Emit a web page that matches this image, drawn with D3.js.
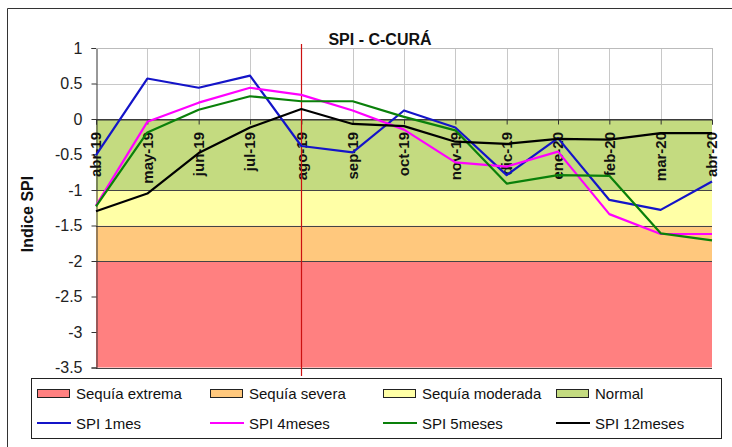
<!DOCTYPE html>
<html><head><meta charset="utf-8">
<script src="https://cdn.jsdelivr.net/npm/d3@7"></script>
<style>
body{margin:0;background:#fff;}
svg{display:block;font-family:"Liberation Sans",Arial,sans-serif;}
</style></head>
<body><svg id="c" width="732" height="447"></svg>
<script>
const categories = ["abr-19","may-19","jun-19","jul-19","ago-19","sep-19","oct-19","nov-19","dic-19","ene-20","feb-20","mar-20","abr-20"];
const spi1 =  [-0.51, 0.57, 0.44, 0.61, -0.38, -0.47, 0.12, -0.12, -0.79, -0.27, -1.14, -1.28, -0.88];
const spi4 =  [-1.22, -0.04, 0.23, 0.44, 0.34, 0.12, -0.15, -0.61, -0.67, -0.46, -1.34, -1.62, -1.62];
const spi5 =  [-1.23, -0.19, 0.13, 0.32, 0.25, 0.25, 0.03, -0.16, -0.91, -0.79, -0.80, -1.61, -1.71];
const spi12 = [-1.30, -1.05, -0.48, -0.12, 0.14, -0.07, -0.10, -0.32, -0.35, -0.28, -0.29, -0.20, -0.20];
const seriesNames = ["SPI 1mes","SPI 4meses","SPI 5meses","SPI 12meses"];
const bandNames = ["Sequía extrema","Sequía severa","Sequía moderada","Normal"];
const bandLow  = [-3.5, -2, -1.5, -1];
const bandHigh = [-2, -1.5, -1, 0];
const yTicks = [1, 0.5, 0, -0.5, -1, -1.5, -2, -2.5, -3, -3.5];
const markerCategory = "ago-19";
const title = "SPI - C-CURÁ";
const yTitle = "Indice SPI";

const bandColors = ["#ff8080","#ffc87d","#ffffa6","#c4db80"];
const lineColors = ["#1414c8","#ff00ff","#0a800a","#000000"];
const seriesData = [spi1, spi4, spi5, spi12];

const svg = d3.select("#c");
const L = 96, R = 712, T = 48, B = 367.5;
const x = d3.scalePoint().domain(categories).range([L, R]);
const y = d3.scaleLinear().domain([-3.5, 1]).range([B, T]);

// outer chart border
svg.append("path").attr("d", "M7.5,447 L7.5,8.5 L732,8.5").attr("fill","none").attr("stroke","#333").attr("stroke-width",1);

// plot background
svg.append("rect").attr("x",L).attr("y",T).attr("width",R-L).attr("height",B-T).attr("fill","#fff");

// gridlines (horizontal)
svg.append("g").selectAll("line").data(yTicks.filter(d => d > 0)).join("line")
  .attr("x1",L).attr("x2",R).attr("y1",d=>Math.round(y(d))+0.5).attr("y2",d=>Math.round(y(d))+0.5)
  .attr("stroke","#c8c8c8");
// vertical gridlines
svg.append("g").selectAll("line").data(categories.slice(1)).join("line")
  .attr("x1",d=>Math.round(x(d))+0.5).attr("x2",d=>Math.round(x(d))+0.5).attr("y1",T).attr("y2",y(0))
  .attr("stroke","#c8c8c8");

// bands
svg.append("g").selectAll("rect").data(bandNames).join("rect")
  .attr("x",L).attr("width",R-L)
  .attr("y",(d,i)=>y(bandHigh[i])).attr("height",(d,i)=>y(bandLow[i])-y(bandHigh[i]))
  .attr("fill",(d,i)=>bandColors[i]);
// band edge lines
const edges = Array.from(new Set(bandLow.concat(bandHigh)));
svg.append("g").selectAll("line").data(edges).join("line")
  .attr("x1",L).attr("x2",R).attr("y1",d=>Math.round(y(d))+0.5).attr("y2",d=>Math.round(y(d))+0.5)
  .attr("stroke","#444");

// y axis
const yAxis = svg.append("g").attr("transform",`translate(${L+0.5},0)`)
  .call(d3.axisLeft(y).tickValues(yTicks).tickFormat(d=>String(d)).tickSize(5).tickPadding(9));
yAxis.select(".domain").attr("stroke","#333");
yAxis.selectAll(".tick line").attr("stroke","#333");
yAxis.selectAll("text").attr("font-size",16).attr("fill","#222").attr("font-family","Liberation Sans, Arial, sans-serif");

// x axis at 0
const xAxis = svg.append("g").attr("transform",`translate(0,${Math.round(y(0))+0.5})`)
  .call(d3.axisBottom(x).tickSize(5).tickFormat(""));
xAxis.select(".domain").attr("stroke","#333");
xAxis.selectAll(".tick line").attr("stroke","#333");
svg.append("g").selectAll("text").data(categories).join("text")
  .attr("transform",d=>`translate(${x(d)},${y(0)+13}) rotate(-90)`)
  .attr("text-anchor","end").attr("dy","0.36em")
  .attr("font-size",15).attr("font-weight","bold").attr("fill","#111")
  .text(d=>d);

// right & top border of plot
svg.append("line").attr("x1",R+0.5).attr("x2",R+0.5).attr("y1",T).attr("y2",y(0)).attr("stroke","#bbb");
svg.append("line").attr("x1",L).attr("x2",R).attr("y1",T+0.5).attr("y2",T+0.5).attr("stroke","#bbb");

// red marker line
svg.append("line").attr("x1",Math.round(x(markerCategory))+0.5).attr("x2",Math.round(x(markerCategory))+0.5)
  .attr("y1",44).attr("y2",376).attr("stroke","#cc1010").attr("stroke-width",1.2);

// series lines
const line = d3.line().x((d,i)=>x(categories[i])).y(d=>y(d));
svg.append("g").selectAll("path").data(seriesData).join("path")
  .attr("d",d=>line(d)).attr("fill","none")
  .attr("stroke",(d,i)=>lineColors[i]).attr("stroke-width",2.2).attr("stroke-linejoin","round");

// title
svg.append("text").attr("x",380).attr("y",45).attr("text-anchor","middle")
  .attr("font-size",16).attr("font-weight","bold").attr("fill","#111").text(title);
// y title
svg.append("text").attr("transform","translate(33,214) rotate(-90)").attr("text-anchor","middle")
  .attr("font-size",16).attr("font-weight","bold").attr("fill","#111").text(yTitle);

// legend
svg.append("rect").attr("x",31.5).attr("y",378.5).attr("width",690).attr("height",60)
  .attr("fill","#fff").attr("stroke","#222");
const colX = [37, 210, 383, 556];
const lg = svg.append("g");
bandNames.forEach((n,i)=>{
  lg.append("rect").attr("x",colX[i]+0.5).attr("y",389.5).attr("width",32).attr("height",8)
    .attr("fill",bandColors[i]).attr("stroke","#222");
  lg.append("text").attr("x",colX[i]+39).attr("y",399).attr("font-size",15).attr("fill","#111").text(n);
});
seriesNames.forEach((n,i)=>{
  lg.append("line").attr("x1",colX[i]).attr("x2",colX[i]+34).attr("y1",423).attr("y2",423)
    .attr("stroke",lineColors[i]).attr("stroke-width",2.2);
  lg.append("text").attr("x",colX[i]+39).attr("y",429).attr("font-size",15).attr("fill","#111").text(n);
});
</script></body></html>
